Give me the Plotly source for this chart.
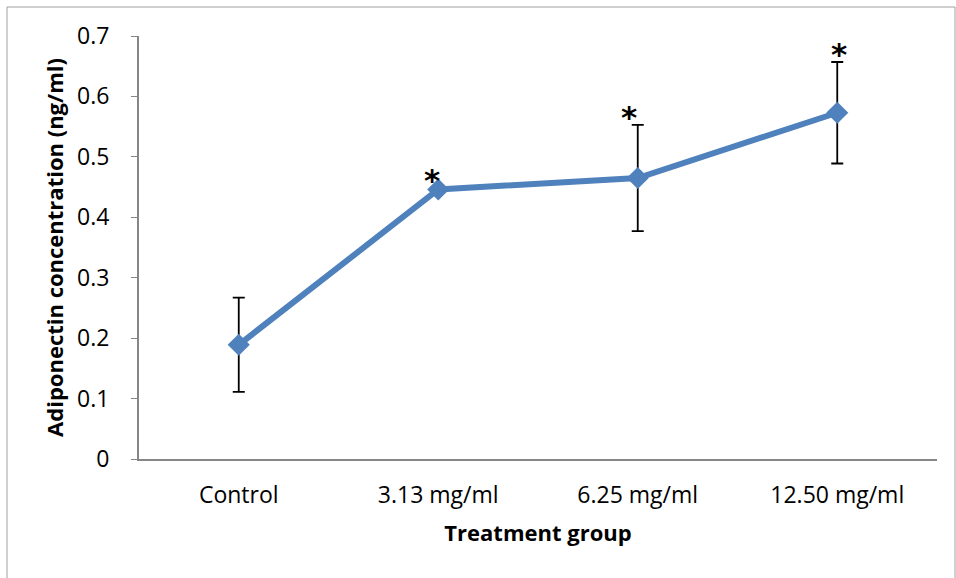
import plotly.graph_objects as go

categories = ["Control", "3.13 mg/ml", "6.25 mg/ml", "12.50 mg/ml"]
means = [0.189, 0.446, 0.465, 0.573]
errors = [0.078, 0.0, 0.088, 0.084]
significant = [False, True, True, True]
y_ticks = [0, 0.1, 0.2, 0.3, 0.4, 0.5, 0.6, 0.7]
y_tick_labels = ["0", "0.1", "0.2", "0.3", "0.4", "0.5", "0.6", "0.7"]

W, H = 956, 578
ml, mr, mt, mb = 139, 19, 36, 119
pw, ph = W - ml - mr, H - mt - mb

fig = go.Figure()
fig.add_trace(go.Scatter(
    x=categories, y=means, mode="lines+markers",
    line=dict(color="#4F81BD", width=6),
    marker=dict(symbol="diamond", size=17, color="#4F81BD"),
    error_y=dict(type="data", array=errors, visible=True, color="black", thickness=1.8, width=6),
    showlegend=False, cliponaxis=False,
))

annotations = []
for i, (c, m, e, s) in enumerate(zip(categories, means, errors, significant)):
    if s:
        annotations.append(dict(
            x=c, y=m + e, xref="x", yref="y", text="<b>*</b>", showarrow=False,
            yanchor="bottom", xshift=-6 if e == 0 else (-9 if i == 2 else 2), yshift=-12 if e > 0 else -11,
            font=dict(family="DejaVu Sans", size=31, color="black"),
        ))

fig.update_layout(
    width=W, height=H,
    margin=dict(l=ml, r=mr, t=mt, b=mb),
    paper_bgcolor="white", plot_bgcolor="white",
    font=dict(family="Open Sans", size=23, color="black"),
    annotations=annotations,
    shapes=[dict(type="rect", xref="paper", yref="paper",
                 x0=(7 - ml) / pw, x1=(955 - ml) / pw,
                 y0=-0.5, y1=1 + (mt - 7) / ph,
                 line=dict(color="#A0A0A0", width=1))],
    xaxis=dict(
        type="category", range=[-0.5, 3.5], showgrid=False,
        showline=True, linecolor="#868686", linewidth=2, ticks="",
        ticklabelstandoff=14,
        title=dict(text="<b>Treatment group</b>", font=dict(size=22), standoff=17),
    ),
    yaxis=dict(
        range=[0, 0.7], tickvals=y_ticks, ticktext=y_tick_labels, showgrid=False,
        showline=True, linecolor="#868686", linewidth=2, ticks="outside",
        tickcolor="#868686", ticklen=6, ticklabelstandoff=17, zeroline=False,
        title=dict(text="<b>Adiponectin concentration (ng/ml)</b>", font=dict(size=22), standoff=7),
    ),
)

fig.write_html("out.html", config={"displayModeBar": False},
               post_script="document.body.style.margin='0px';")
